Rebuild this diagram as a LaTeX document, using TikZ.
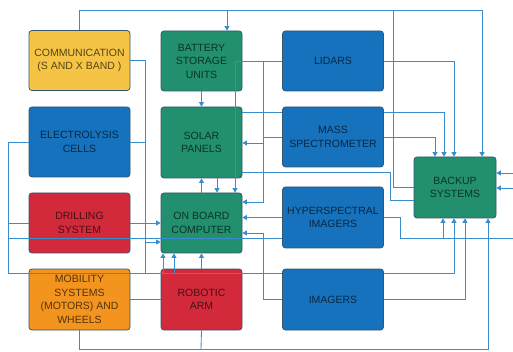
\documentclass[tikz,border=0pt]{standalone}
\usepackage{fontspec}
\setmainfont{Liberation Sans}
\usetikzlibrary{arrows.meta}
\definecolor{cyel}{HTML}{F6C445}
\definecolor{cgrn}{HTML}{22906F}
\definecolor{cblu}{HTML}{1672BD}
\definecolor{cred}{HTML}{D22A3B}
\definecolor{corg}{HTML}{F3941F}
\definecolor{cln}{HTML}{3A8DCC}
\definecolor{cbd}{HTML}{35566E}
\begin{document}
\begin{tikzpicture}[x=1pt,y=-1pt,
  box/.style={draw=cbd, line width=0.8pt, rounded corners=3pt, inner sep=1pt, align=center,
    font=\fontsize{10.5}{13.5}\selectfont, text=black, text opacity=0.65},
  wbox/.style={box, minimum width=101pt, minimum height=60pt},
  gbox/.style={box, minimum width=81pt, minimum height=60pt},
  ln/.style={draw=cln, line width=0.85pt},
  arr/.style={ln, -{Triangle[length=4.5pt,width=5pt]}},
]
\fill[white] (0,0) rectangle (513,352);
\useasboundingbox (0,0) rectangle (513,352);

% boxes
\node[wbox, fill=cyel] (comm) at (79.5,60.5) {COMMUNICATION\\(S AND X BAND )};
\node[gbox, fill=cgrn] (batt) at (201.5,61) {BATTERY\\STORAGE\\UNITS};
\node[wbox, fill=cblu] (lid) at (333,61) {LIDARS};
\node[wbox, fill=cblu, minimum height=70pt] (elec) at (79.5,142) {ELECTROLYSIS\\CELLS};
\node[gbox, fill=cgrn, minimum height=71pt] (solar) at (201.5,142.5) {SOLAR\\PANELS};
\node[wbox, fill=cblu] (mass) at (333,137) {MASS\\SPECTROMETER};
\node[gbox, fill=cgrn, minimum width=82pt, minimum height=61pt] (backup) at (455,187.5) {BACKUP\\SYSTEMS};
\node[wbox, fill=cred] (drill) at (79.5,223) {DRILLING\\SYSTEM};
\node[gbox, fill=cgrn] (obc) at (201.5,223) {ON BOARD\\COMPUTER};
\node[wbox, fill=cblu, minimum height=61pt] (hyper) at (333,217.5) {HYPERSPECTRAL\\IMAGERS};
\node[wbox, fill=corg, minimum height=61pt] (mob) at (79.5,299.5) {MOBILITY\\SYSTEMS\\(MOTORS) AND\\WHEELS};
\node[gbox, fill=cred, minimum height=61pt] (arm) at (201.5,299.5) {ROBOTIC\\ARM};
\node[wbox, fill=cblu, minimum height=61pt] (img) at (333,299.5) {IMAGERS};

% top bus
\draw[arr] (comm.north) |- (482,10) -- (482,0 |- backup.north);
\draw[arr] (227,10) -- (227,0 |- batt.north);
\draw[ln] (393,10) |- (backup.west);
\draw[ln] (solar.east |- 0,172) -| (390,200) -- (backup.west |- 0,200);

% lidars / mass to backup
\draw[arr] (lid.east) -| (454,0 |- backup.north);
\draw[ln] (solar.east |- 0,112) -- (mass.west |- 0,112);
\draw[arr] (mass.east |- 0,112) -| (444,0 |- backup.north);
\draw[arr] (mass.east) -| (435,0 |- backup.north);

% into solar / obc from right
\draw[arr] (mass.west) -- (263,137) |- (solar.east |- 0,143);
\draw[arr] (lid.west) -| (235,0 |- obc.north);
\draw[arr] (263,61) |- (obc.east |- 0,202);
\draw[arr] (hyper.west) -- (obc.east |- hyper.west);
\draw[arr] (img.west) -| (263,233) -- (obc.east |- 0,233);

% vertical green chain
\draw[arr] (batt.south) -- (solar.north);
\draw[arr] (obc.north) -- (solar.south);
\draw[arr] (217,0 |- solar.south) -- (217,0 |- obc.north);

% left bus
\draw[ln] (comm.east) -| (145,273);
\draw[ln] (elec.east) -- (145,0 |- elec.east);
\draw[ln] (elec.west) -| (8,273) -- (img.west |- 0,273);
\draw[arr] (img.east |- 0,273) -| (454,0 |- backup.south);
\draw[ln] (8,0 |- drill.west) -- (drill.west);
\draw[arr] (drill.east) -- (obc.west);
\draw[ln] (8,238) -- (hyper.west |- 0,238);
\draw[arr] (145,242) -- (obc.west |- 0,242);
\draw[arr] (163,273) -- (163,0 |- obc.south);
\draw[arr] (174,273) -- (174,0 |- obc.south);
\draw[arr] (arm.north) -- (obc.south);
\draw[ln] (mob.east) -- (arm.west);

% right side
\draw[arr] (img.east) -| (465,0 |- backup.south);
\draw[ln] (hyper.east) -| (400,238) -- (513,238);
\draw[arr] (443,238) -- (443,0 |- backup.south);
\draw[arr] (mob.south) |- (488,349) -- (488,0 |- backup.south);
\draw[ln] (arm.south) -- (201,349);
\draw[arr] (513,173) -- (backup.east |- 0,173);
\draw[arr] (513,188) -- (backup.east |- 0,188);
\end{tikzpicture}
\end{document}
